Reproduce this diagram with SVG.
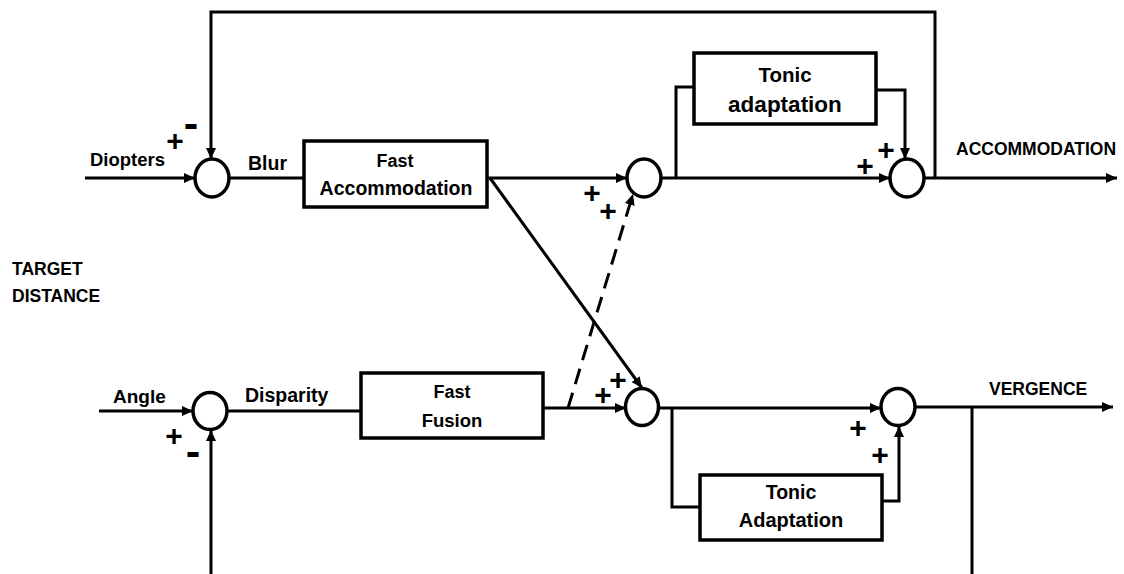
<svg xmlns="http://www.w3.org/2000/svg" width="1124" height="574" viewBox="0 0 1124 574">
<style>
.box{fill:#fff;stroke:#000;stroke-width:3.5}
.sum{fill:#fff;stroke:#000;stroke-width:3.5}
.ln{fill:none;stroke:#000;stroke-width:3}
.t{font-family:"Liberation Sans",Arial,sans-serif;font-weight:bold;fill:#000}
.pl{font-family:"Liberation Sans",Arial,sans-serif;font-weight:bold;font-size:30px;text-anchor:middle;fill:#000}
.mi{font-family:"DejaVu Sans",sans-serif;font-weight:bold;font-size:36px;text-anchor:middle;fill:#000}
</style>
<defs>
<marker id="ah" markerUnits="userSpaceOnUse" markerWidth="11" markerHeight="10" refX="11" refY="5" orient="auto">
<path d="M0,0 L11,5 L0,10 z" fill="#000"/>
</marker>
</defs>
<rect width="1124" height="574" fill="#fff"/>
<g id="connectors">
<path class="ln" d="M85,178 H195" marker-end="url(#ah)"/>
<path class="ln" d="M229,178 H304"/>
<path class="ln" d="M487,178 H627" marker-end="url(#ah)"/>
<path class="ln" d="M490,178 L642,388" marker-end="url(#ah)"/>
<path class="ln" d="M568,408 L633,194" stroke-dasharray="16 9" marker-end="url(#ah)"/>
<path class="ln" d="M661,178 H890" marker-end="url(#ah)"/>
<path class="ln" d="M676,178 V87 H694"/>
<path class="ln" d="M876,90 H905 V159" marker-end="url(#ah)"/>
<path class="ln" d="M924,178 H1117" marker-end="url(#ah)"/>
<path class="ln" d="M935,178 V12 H211 V159" marker-end="url(#ah)"/>
<path class="ln" d="M99,411 H193" marker-end="url(#ah)"/>
<path class="ln" d="M227,411 H361"/>
<path class="ln" d="M543,408 H626" marker-end="url(#ah)"/>
<path class="ln" d="M658,408 H881" marker-end="url(#ah)"/>
<path class="ln" d="M672,408 V507 H700"/>
<path class="ln" d="M882,501 H899 V426" marker-end="url(#ah)"/>
<path class="ln" d="M915,407 H1113" marker-end="url(#ah)"/>
<path class="ln" d="M972,407 V574"/>
<path class="ln" d="M211,574 V430" marker-end="url(#ah)"/>
</g>
<g id="sum-blur"><ellipse class="sum" cx="212" cy="178" rx="17" ry="19"/></g>
<g id="sum-acc1"><ellipse class="sum" cx="644" cy="178" rx="17" ry="19"/></g>
<g id="sum-acc2"><ellipse class="sum" cx="907" cy="178" rx="17" ry="19"/></g>
<g id="sum-disp"><ellipse class="sum" cx="210" cy="411" rx="17" ry="18.5"/></g>
<g id="sum-verg1"><ellipse class="sum" cx="642" cy="407" rx="16.5" ry="18.5"/></g>
<g id="sum-verg2"><ellipse class="sum" cx="898" cy="407" rx="17" ry="18.5"/></g>
<g id="fast-accommodation">
<rect class="box" x="304" y="141" width="183" height="66"/>
<text class="t" x="395" y="167" font-size="18" text-anchor="middle">Fast</text>
<text class="t" x="396" y="195" font-size="19.5" text-anchor="middle">Accommodation</text>
</g>
<g id="tonic-adaptation-top">
<rect class="box" x="694" y="53" width="182" height="71"/>
<text class="t" x="785" y="82" font-size="20.5" text-anchor="middle">Tonic</text>
<text class="t" x="785" y="112" font-size="22.5" text-anchor="middle">adaptation</text>
</g>
<g id="fast-fusion">
<rect class="box" x="361" y="373" width="182" height="65"/>
<text class="t" x="452" y="398" font-size="18" text-anchor="middle">Fast</text>
<text class="t" x="452" y="427" font-size="18.5" text-anchor="middle">Fusion</text>
</g>
<g id="tonic-adaptation-bottom">
<rect class="box" x="700" y="475" width="182" height="65"/>
<text class="t" x="791" y="499" font-size="19.5" text-anchor="middle">Tonic</text>
<text class="t" x="791" y="527" font-size="20" text-anchor="middle">Adaptation</text>
</g>
<g id="labels">
<text class="t" x="90" y="166" font-size="18.5">Diopters</text>
<text class="t" x="248" y="170" font-size="19.5">Blur</text>
<text class="t" x="956" y="155" font-size="17.5">ACCOMMODATION</text>
<text class="t" x="12" y="275" font-size="17.5">TARGET</text>
<text class="t" x="12" y="302" font-size="17.5">DISTANCE</text>
<text class="t" x="113" y="403" font-size="19">Angle</text>
<text class="t" x="245" y="402" font-size="19.5">Disparity</text>
<text class="t" x="989" y="395" font-size="17.5">VERGENCE</text>
</g>
<g id="signs">
<text class="pl" x="175" y="151">+</text>
<text class="mi" x="191" y="137">-</text>
<text class="pl" x="592" y="203">+</text>
<text class="pl" x="608" y="221">+</text>
<text class="pl" x="865" y="176">+</text>
<text class="pl" x="886" y="160">+</text>
<text class="pl" x="174" y="446">+</text>
<text class="mi" x="193" y="465">-</text>
<text class="pl" x="603" y="405">+</text>
<text class="pl" x="618" y="390">+</text>
<text class="pl" x="858" y="438">+</text>
<text class="pl" x="880" y="465">+</text>
</g>
</svg>
